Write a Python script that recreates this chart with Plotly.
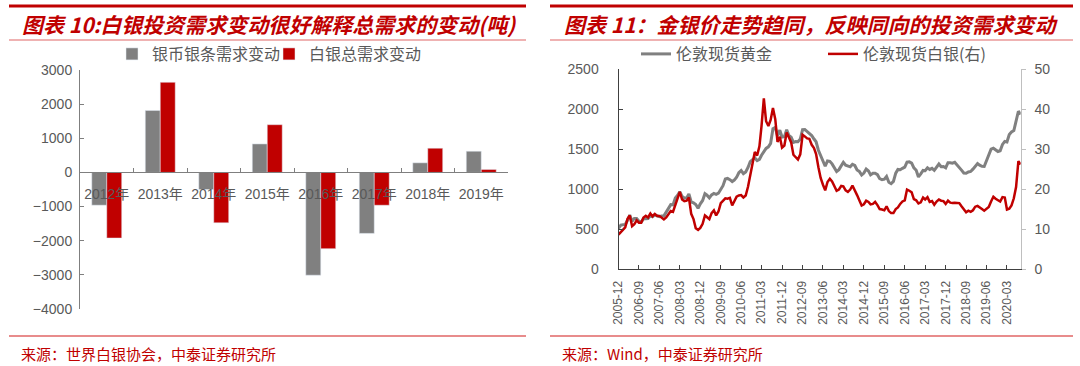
import pandas as pd
import plotly.graph_objects as go

# ---------------- data: left chart (tonnes) ----------------
years = ["2012年", "2013年", "2014年", "2015年", "2016年", "2017年", "2018年", "2019年"]
coin_bar_change = [-960, 1815, -500, 835, -3010, -1786, 282, 621]
total_demand_change = [-1922, 2640, -1475, 1398, -2233, -961, 709, 87]

# ---------------- data: right chart (monthly, 2005-12 .. 2020-09) ----------------
start_month = "2005-12-01"
end_month = "2020-09-01"
gold_2005 = [510]
gold_2006 = [549, 555, 557, 610, 676, 596, 633, 632, 598, 586, 628, 629]
gold_2007 = [631, 665, 655, 679, 667, 655, 665, 665, 712, 754, 806, 803]
gold_2008 = [889, 922, 968, 909, 888, 890, 939, 839, 829, 807, 760, 816]
gold_2009 = [858, 943, 924, 890, 928, 946, 934, 949, 996, 1043, 1127, 1134]
gold_2010 = [1118, 1095, 1113, 1148, 1205, 1232, 1193, 1215, 1271, 1343, 1370, 1391]
gold_2011 = [1356, 1372, 1424, 1474, 1510, 1529, 1573, 1756, 1772, 1666, 1739, 1652]
gold_2012 = [1656, 1743, 1674, 1650, 1585, 1596, 1594, 1626, 1744, 1747, 1721, 1688]
gold_2013 = [1671, 1627, 1593, 1487, 1414, 1343, 1286, 1352, 1348, 1316, 1275, 1221]
gold_2014 = [1244, 1300, 1336, 1299, 1288, 1279, 1311, 1296, 1239, 1222, 1176, 1201]
gold_2015 = [1251, 1227, 1178, 1198, 1199, 1181, 1131, 1117, 1125, 1159, 1086, 1068]
gold_2016 = [1097, 1200, 1246, 1242, 1260, 1276, 1337, 1341, 1326, 1266, 1236, 1152]
gold_2017 = [1192, 1234, 1231, 1266, 1246, 1260, 1236, 1283, 1314, 1280, 1282, 1265]
gold_2018 = [1331, 1331, 1325, 1335, 1303, 1282, 1238, 1202, 1198, 1215, 1221, 1250]
gold_2019 = [1291, 1320, 1300, 1286, 1284, 1359, 1413, 1500, 1511, 1495, 1471, 1480]
gold_2020 = [1560, 1597, 1591, 1683, 1715, 1732, 1846, 1975, 1935]

silver_2005 = [8.6]
silver_2006 = [9.2, 9.6, 10.4, 12.6, 13.4, 10.7, 11.2, 12.2, 11.6, 11.6, 12.9, 13.3]
silver_2007 = [12.9, 13.9, 13.2, 13.8, 13.3, 13.3, 12.9, 12.4, 12.9, 13.7, 14.5, 14.3]
silver_2008 = [16.0, 17.6, 19.3, 17.4, 17.0, 17.1, 17.9, 13.8, 12.5, 10.2, 9.8, 10.3]
silver_2009 = [11.3, 13.4, 13.0, 12.5, 14.0, 14.7, 13.4, 14.4, 16.5, 17.2, 17.7, 17.6]
silver_2010 = [17.8, 15.9, 17.1, 18.1, 18.4, 18.5, 17.9, 18.4, 20.6, 23.4, 26.5, 29.3]
silver_2011 = [28.4, 30.7, 35.8, 42.7, 37.0, 35.8, 37.3, 40.3, 37.5, 31.8, 33.1, 30.4]
silver_2012 = [30.9, 34.2, 33.0, 31.7, 28.6, 28.1, 27.4, 28.7, 33.6, 33.2, 32.7, 32.6]
silver_2013 = [31.1, 30.3, 28.8, 25.5, 22.8, 21.1, 19.7, 21.8, 22.6, 21.9, 20.8, 19.6]
silver_2014 = [19.9, 20.8, 20.7, 19.7, 19.3, 19.9, 20.9, 19.8, 18.5, 17.2, 15.9, 16.2]
silver_2015 = [17.1, 16.8, 16.2, 16.3, 16.8, 16.0, 15.0, 14.9, 14.7, 15.7, 14.5, 14.0]
silver_2016 = [14.0, 15.0, 15.4, 16.3, 16.9, 17.2, 19.9, 19.6, 19.2, 17.5, 17.2, 16.4]
silver_2017 = [16.7, 17.9, 17.4, 18.0, 16.8, 17.0, 16.1, 16.9, 17.4, 17.1, 17.0, 16.3]
silver_2018 = [17.1, 16.6, 16.5, 16.6, 16.5, 16.5, 15.7, 15.0, 14.2, 14.6, 14.3, 14.7]
silver_2019 = [15.6, 15.8, 15.3, 15.0, 14.6, 15.0, 15.5, 16.9, 18.1, 17.6, 17.2, 16.9]
silver_2020 = [18.0, 17.9, 14.9, 15.1, 15.9, 17.7, 20.5, 27.0, 26.2]

gold = (gold_2005 + gold_2006 + gold_2007 + gold_2008 + gold_2009 + gold_2010 + gold_2011
        + gold_2012 + gold_2013 + gold_2014 + gold_2015 + gold_2016 + gold_2017 + gold_2018
        + gold_2019 + gold_2020)
silver = (silver_2005 + silver_2006 + silver_2007 + silver_2008 + silver_2009 + silver_2010
          + silver_2011 + silver_2012 + silver_2013 + silver_2014 + silver_2015 + silver_2016
          + silver_2017 + silver_2018 + silver_2019 + silver_2020)
months = pd.date_range(start_month, end_month, freq="MS")

# ---------------- layout helpers ----------------
W, H = 1080, 366
def fx(px):
    return px / W
def fy(py):
    return 1 - py / H

GRAY = "#808080"
RED = "#C00000"
TXT = "#595959"
NUM_FONT = "Liberation Sans, Noto Sans CJK SC"
CJK_FONT = "Noto Sans CJK SC"

fig = go.Figure()

# left chart bars
fig.add_trace(go.Bar(x=years, y=coin_bar_change, name="银币银条需求变动", marker_color=GRAY,
                     xaxis="x", yaxis="y", legend="legend"))
fig.add_trace(go.Bar(x=years, y=total_demand_change, name="白银总需求变动", marker_color=RED,
                     xaxis="x", yaxis="y", legend="legend"))

# right chart lines
fig.add_trace(go.Scatter(x=months, y=gold, name="伦敦现货黄金", mode="lines",
                         line=dict(color=GRAY, width=3), xaxis="x2", yaxis="y2", legend="legend2"))
fig.add_trace(go.Scatter(x=months, y=silver, name="伦敦现货白银(右)", mode="lines",
                         line=dict(color=RED, width=2.5), xaxis="x2", yaxis="y3", legend="legend2"))

# left plot geometry
L_y0, L_y1 = 309, 70          # px for -4000 and 3000
ymin, ymax = -4000, 3000
zero_px = L_y0 - (0 - ymin) / (ymax - ymin) * (L_y0 - L_y1)

fig.update_layout(
    width=W, height=H,
    margin=dict(l=0, r=0, t=0, b=0, autoexpand=False),
    paper_bgcolor="white", plot_bgcolor="white",
    barmode="group", bargap=0.44, bargroupgap=0,
    font=dict(family=NUM_FONT, color=TXT, size=14),
    xaxis=dict(domain=[fx(80), fx(508)], type="category", anchor="free", position=fy(zero_px),
               automargin=False, tickangle=0,
               showline=True, linecolor="#7f7f7f", linewidth=1,
               ticks="inside", tickson="boundaries", ticklen=4, tickcolor="#7f7f7f",
               tickfont=dict(size=14, color=TXT, family=NUM_FONT), ticklabelstandoff=9,
               showgrid=False, zeroline=False),
    yaxis=dict(domain=[fy(L_y0), fy(L_y1)], range=[ymin, ymax], dtick=1000, anchor="x",
               automargin=False,
               showline=True, linecolor="#7f7f7f", linewidth=1,
               ticks="inside", ticklen=4, tickcolor="#7f7f7f",
               tickfont=dict(size=14, color=TXT, family=NUM_FONT), ticklabelstandoff=4,
               showgrid=False, zeroline=False),
    xaxis2=dict(domain=[fx(618.5), fx(1020.7)], type="date", anchor="y2", automargin=False,
                range=[start_month, end_month], tick0=start_month, dtick="M9", tickformat="%Y-%m",
                tickangle=-90, showline=True, linecolor="#404040", linewidth=1,
                ticks="inside", ticklen=4, tickcolor="#404040",
                tickfont=dict(size=12, color=TXT, family=NUM_FONT), ticklabelstandoff=6,
                showgrid=False, zeroline=False),
    yaxis2=dict(domain=[fy(269), fy(69.3)], range=[0, 2500], dtick=500, anchor="x2",
                automargin=False,
                showline=True, linecolor="#404040", linewidth=1,
                ticks="inside", ticklen=4, tickcolor="#404040",
                tickfont=dict(size=14, color=TXT, family=NUM_FONT), ticklabelstandoff=16,
                showgrid=False, zeroline=False),
    yaxis3=dict(overlaying="y2", side="right", anchor="x2", range=[0, 50], dtick=10,
                automargin=False,
                showline=True, linecolor="#BFBFBF", linewidth=1,
                ticks="outside", ticklen=4, tickcolor="#BFBFBF",
                tickfont=dict(size=14, color=TXT, family=NUM_FONT), ticklabelstandoff=6,
                showgrid=False, zeroline=False),
    legend=dict(orientation="h", x=fx(112), xanchor="left", y=fy(54), yanchor="middle",
                font=dict(size=16, color=TXT, family=CJK_FONT), bgcolor="rgba(0,0,0,0)",
                itemwidth=30, entrywidthmode="pixels", entrywidth=112),
    legend2=dict(orientation="h", x=fx(636), xanchor="left", y=fy(54), yanchor="middle",
                 font=dict(size=16, color=TXT, family=CJK_FONT), bgcolor="rgba(0,0,0,0)",
                 itemwidth=30, entrywidthmode="pixels", entrywidth=142),
    showlegend=True,
)

# decorative title / source lines
line_specs = [
    (9, 526, 6, RED, 3), (550, 1073, 6, RED, 3),
    (9, 526, 40, "#E06666", 1.2), (550, 1073, 40, "#E06666", 1.2),
    (9, 526, 336, "#E06666", 1.5), (550, 1073, 336, "#E06666", 1.5),
]
for x0, x1, yy, col, wdt in line_specs:
    fig.add_shape(type="line", xref="paper", yref="paper", x0=fx(x0), x1=fx(x1),
                  y0=fy(yy), y1=fy(yy), line=dict(color=col, width=wdt))

title_font = dict(family=CJK_FONT, size=21, color=RED, weight="bold", style="italic")
fig.add_annotation(text="图表 10:白银投资需求变动很好解释总需求的变动(吨)", xref="paper", yref="paper",
                   x=fx(20), y=fy(24), xanchor="left", yanchor="middle", showarrow=False, font=title_font)
fig.add_annotation(text="图表 11：金银价走势趋同，反映同向的投资需求变动", xref="paper", yref="paper",
                   x=fx(562), y=fy(24), xanchor="left", yanchor="middle", showarrow=False, font=title_font)

src_font = dict(family=CJK_FONT, size=15, color=RED)
fig.add_annotation(text="来源：世界白银协会，中泰证券研究所", xref="paper", yref="paper",
                   x=fx(19), y=fy(353), xanchor="left", yanchor="middle", showarrow=False, font=src_font)
fig.add_annotation(text="来源：Wind，中泰证券研究所", xref="paper", yref="paper",
                   x=fx(560), y=fy(353), xanchor="left", yanchor="middle", showarrow=False, font=src_font)

fig.write_html("out.html", config={"displayModeBar": False},
               post_script="document.body.style.margin='0px';")
